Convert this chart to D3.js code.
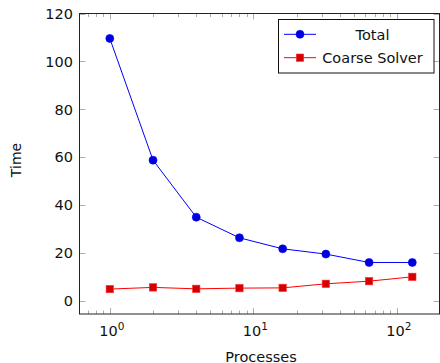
<!DOCTYPE html>
<html>
<head>
<meta charset="utf-8">
<script src="https://cdn.jsdelivr.net/npm/d3@7"></script>
<style>
  body { margin: 0; background: #fff; }
  svg text { font-family: "DejaVu Sans", sans-serif; fill: #111; }
</style>
</head>
<body>
<div id="chart"></div>
<script>
// data
const processes = [1, 2, 4, 8, 16, 32, 64, 128];
const totalTime = [109.6, 58.8, 35, 26.4, 21.8, 19.6, 16.1, 16.1];
const coarseTime = [5.0, 5.7, 5.1, 5.4, 5.5, 7.2, 8.3, 10.1];
const yTicks = [0, 20, 40, 60, 80, 100, 120];
const xDecades = [1, 10, 100];
const seriesNames = ['Total', 'Coarse Solver'];

const width = 440, height = 363;
const margin = { left: 79.5, right: 0.5, top: 13.5, bottom: 49 };
const fontSize = 14.5;

const svg = d3.select('#chart').append('svg')
    .attr('width', width)
    .attr('height', height);

const x = d3.scaleLog()
    .domain([0.615, 198])
    .range([margin.left, width - margin.right]);

const y = d3.scaleLinear()
    .domain([-5.4, 120])
    .range([height - margin.bottom, margin.top]);

const x0 = margin.left, x1 = width - margin.right;
const y0 = height - margin.bottom, y1 = margin.top;

// minor ticks 2..9 in each decade inside the domain
const minorTicks = [];
[0.1, 1, 10, 100].forEach(d => {
    for (let k = 2; k <= 9; k++) {
        const v = d * k;
        if (v > x.domain()[0] && v < x.domain()[1]) minorTicks.push(v);
    }
});

const ticks = svg.append('g').attr('stroke', '#999').attr('stroke-width', 0.8);

// x major ticks bottom & top
xDecades.forEach(v => {
    const px = Math.round(x(v)) + 0.5;
    ticks.append('line').attr('x1', px).attr('x2', px).attr('y1', y0).attr('y2', y0 - 6);
    ticks.append('line').attr('x1', px).attr('x2', px).attr('y1', y1).attr('y2', y1 + 6);
});
minorTicks.forEach(v => {
    const px = Math.round(x(v)) + 0.5;
    ticks.append('line').attr('x1', px).attr('x2', px).attr('y1', y0).attr('y2', y0 - 3.5);
    ticks.append('line').attr('x1', px).attr('x2', px).attr('y1', y1).attr('y2', y1 + 3.5);
});
// y ticks left & right
yTicks.forEach(v => {
    const py = Math.round(y(v)) + 0.5;
    ticks.append('line').attr('x1', x0).attr('x2', x0 + 6).attr('y1', py).attr('y2', py);
    ticks.append('line').attr('x1', x1).attr('x2', x1 - 6).attr('y1', py).attr('y2', py);
});

// frame
svg.append('rect')
    .attr('x', x0).attr('y', y1)
    .attr('width', x1 - x0).attr('height', y0 - y1)
    .attr('fill', 'none')
    .attr('stroke', '#222')
    .attr('stroke-width', 1);

// y tick labels
svg.append('g').selectAll('text')
    .data(yTicks)
    .join('text')
    .attr('x', 73)
    .attr('y', d => y(d))
    .attr('dy', '0.36em')
    .attr('text-anchor', 'end')
    .attr('font-size', fontSize)
    .text(d => d);

// x tick labels 10^n
const xl = svg.append('g').selectAll('text')
    .data(xDecades)
    .join('text')
    .attr('x', d => x(d) + 2)
    .attr('y', 336)
    .attr('text-anchor', 'middle')
    .attr('font-size', fontSize);
xl.append('tspan').text('10');
xl.append('tspan').attr('dy', -6).attr('font-size', 10.5).text(d => Math.round(Math.log10(d)));

// axis labels
svg.append('text')
    .attr('x', 261)
    .attr('y', 361.5)
    .attr('text-anchor', 'middle')
    .attr('font-size', fontSize)
    .text('Processes');

svg.append('text')
    .attr('transform', 'translate(21,160) rotate(-90)')
    .attr('text-anchor', 'middle')
    .attr('font-size', 14)
    .text('Time');

const line = d3.line()
    .x((d, i) => x(processes[i]))
    .y(d => y(d));

// Total series
svg.append('path')
    .datum(totalTime)
    .attr('d', line)
    .attr('fill', 'none')
    .attr('stroke', '#0000ff')
    .attr('stroke-width', 1);
svg.append('g').selectAll('circle')
    .data(totalTime)
    .join('circle')
    .attr('cx', (d, i) => x(processes[i]))
    .attr('cy', d => y(d))
    .attr('r', 4)
    .attr('fill', '#0000dd')
    .attr('stroke', '#0000ff')
    .attr('stroke-width', 0.6);

// Coarse solver series
svg.append('path')
    .datum(coarseTime)
    .attr('d', line)
    .attr('fill', 'none')
    .attr('stroke', '#ff0000')
    .attr('stroke-width', 1);
svg.append('g').selectAll('rect')
    .data(coarseTime)
    .join('rect')
    .attr('x', (d, i) => x(processes[i]) - 3.7)
    .attr('y', d => y(d) - 3.7)
    .attr('width', 7.4)
    .attr('height', 7.4)
    .attr('fill', '#d40000')
    .attr('stroke', '#ff3030')
    .attr('stroke-width', 0.6);

// legend
const legend = svg.append('g');
legend.append('rect')
    .attr('x', 278.5).attr('y', 19.5)
    .attr('width', 155.5).attr('height', 53.5)
    .attr('fill', '#fff')
    .attr('stroke', '#111')
    .attr('stroke-width', 1);

const rowsY = [34.3, 57.7];
const colors = ['#0000ff', '#ff0000'];
seriesNames.forEach((name, i) => {
    legend.append('line')
        .attr('x1', 284).attr('x2', 316)
        .attr('y1', rowsY[i]).attr('y2', rowsY[i])
        .attr('stroke', colors[i])
        .attr('stroke-width', 1);
    if (i === 0) {
        legend.append('circle')
            .attr('cx', 300).attr('cy', rowsY[i]).attr('r', 4)
            .attr('fill', '#0000dd').attr('stroke', '#0000ff').attr('stroke-width', 0.6);
    } else {
        legend.append('rect')
            .attr('x', 300 - 3.7).attr('y', rowsY[i] - 3.7)
            .attr('width', 7.4).attr('height', 7.4)
            .attr('fill', '#d40000').attr('stroke', '#ff3030').attr('stroke-width', 0.6);
    }
    legend.append('text')
        .attr('x', 372.5)
        .attr('y', rowsY[i])
        .attr('dy', '0.36em')
        .attr('text-anchor', 'middle')
        .attr('font-size', fontSize)
        .text(name);
});
</script>
</body>
</html>
